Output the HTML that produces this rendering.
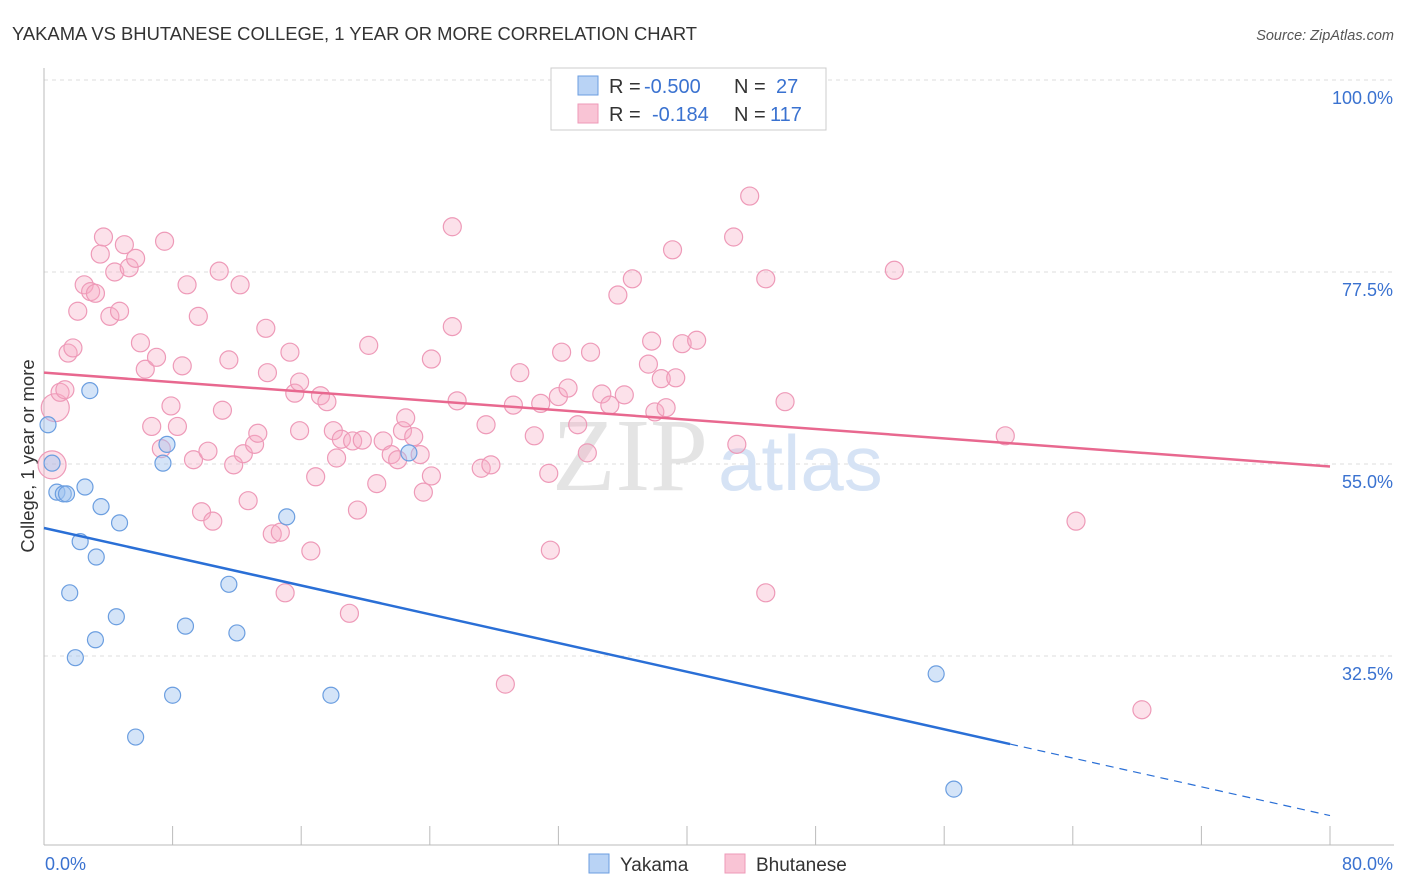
<!DOCTYPE html>
<html><head><meta charset="utf-8"><style>
body{margin:0;background:#fff;font-family:"Liberation Sans",sans-serif}
svg{display:block}
</style></head><body>
<svg id="c" width="1406" height="892"></svg>
<script>
const yakamaX=[0.25,0.5,0.8,1.2,1.4,2.55,2.85,3.55,4.7,2.25,3.25,1.6,4.5,3.2,1.95,8.0,5.7,8.8,7.65,7.4,11.5,12.0,15.1,17.85,22.7,55.5,56.6];
const yakamaY=[59.6,55.1,51.7,51.5,51.5,52.3,63.6,50.0,48.1,45.9,44.1,39.9,37.1,34.4,32.3,27.9,23.0,36.0,57.3,55.1,40.9,35.2,48.8,27.9,56.3,30.4,16.9];
const bhutX=[0.5,0.7,1.0,1.3,1.5,1.8,2.1,2.5,2.9,3.2,3.5,3.7,4.1,4.4,4.7,5.0,5.3,5.7,6.0,6.3,6.7,7.0,7.3,7.5,7.9,8.3,8.6,8.9,9.3,9.6,9.8,10.2,10.5,10.9,11.1,11.5,11.8,12.2,12.4,12.7,13.1,13.3,13.8,13.9,14.2,14.7,15.0,15.3,15.6,15.9,15.9,16.6,16.9,17.2,17.6,18.0,18.2,18.5,19.0,19.2,19.5,19.8,20.2,20.7,21.1,21.6,22.0,22.3,22.5,23.0,23.4,23.6,24.1,24.1,25.4,25.4,25.7,27.2,27.5,27.8,28.7,29.2,29.6,30.5,30.9,31.4,31.5,32.0,32.2,32.6,33.2,33.8,34.0,34.7,35.2,35.7,36.1,36.6,37.6,37.8,38.0,38.4,38.7,39.1,39.3,39.7,40.6,42.9,43.1,43.9,44.9,44.9,46.1,52.9,59.8,64.2,68.3];
const bhutY=[54.9,61.6,63.4,63.7,68.0,68.6,72.9,76.0,75.2,75.0,79.6,81.6,72.3,77.5,72.9,80.7,78.0,79.1,69.2,66.1,59.4,67.5,56.8,81.1,61.8,59.4,66.5,76.0,55.5,72.3,49.4,56.5,48.3,77.6,61.3,67.2,54.9,76.0,56.2,50.7,57.3,58.6,70.9,65.7,46.8,47.0,39.9,68.1,63.3,64.6,58.9,44.8,53.5,63.0,62.3,58.9,55.7,57.9,37.5,57.7,49.6,57.8,68.9,52.7,57.7,56.1,55.5,58.9,60.4,58.2,56.1,51.7,53.6,67.3,82.8,71.1,62.4,54.5,59.6,54.9,29.2,61.9,65.7,58.3,62.1,53.9,44.9,62.9,68.1,63.9,59.6,56.3,68.1,63.2,61.9,74.8,63.1,76.7,66.7,69.4,61.1,65.0,61.6,80.1,65.1,69.1,69.5,81.6,57.3,86.4,76.7,39.9,62.3,77.7,58.3,48.3,26.2];
const yTicks=[100,77.5,55,32.5];
const yTickLabels=["100.0%","77.5%","55.0%","32.5%"];
const yakTrend=[47.5,-0.4213]; // intercept, slope
const bhuTrend=[65.7,-0.1375];

const NS="http://www.w3.org/2000/svg";
const svg=document.getElementById('c');
function X(v){return 44+v*16.075;}
function Y(v){return 80+(100-v)*8.533;}
function el(t,a,p){const e=document.createElementNS(NS,t);for(const k in a)e.setAttribute(k,a[k]);(p||svg).appendChild(e);return e;}

let t=el('text',{x:12,y:40,'font-size':18.4,fill:'#333'});t.textContent="YAKAMA VS BHUTANESE COLLEGE, 1 YEAR OR MORE CORRELATION CHART";

t=el('text',{x:1394,y:40,'font-size':14.5,fill:'#555','text-anchor':'end','font-style':'italic'});t.textContent="Source: ZipAtlas.com";


yTicks.forEach((v,i)=>{
  const g=el('line',{x1:44,x2:1394,y1:Y(v),y2:Y(v),stroke:'#ddd','stroke-dasharray':'4,4'});
  
  const l=el('text',{x:1393,y:Y(v)+24,'font-size':18,fill:'#3a72d0','text-anchor':'end'});l.textContent=yTickLabels[i];
  
});
let a=el('line',{x1:44,x2:44,y1:68,y2:845,stroke:'#bbb'});
a=el('line',{x1:44,x2:1394,y1:845,y2:845,stroke:'#bbb'});
for(let i=0;i<=10;i++){const k=el('line',{x1:X(i*8),x2:X(i*8),y1:826,y2:845,stroke:'#bbb'});}
t=el('text',{x:45,y:870,'font-size':18,fill:'#3a72d0'});t.textContent="0.0%";
t=el('text',{x:1393,y:870,'font-size':18,fill:'#3a72d0','text-anchor':'end'});t.textContent="80.0%";
t=el('text',{x:34,y:456,'font-size':18.5,fill:'#333','text-anchor':'middle',transform:'rotate(-90 34 456)'});t.textContent="College, 1 year or more";


t=el('text',{x:552,y:490,'font-size':104,fill:'#e4e4e4','font-family':'Liberation Serif,serif'});t.textContent="ZIP";

t=el('text',{x:718,y:490,'font-size':78,fill:'#d6e3f5'});t.textContent="atlas";


bhutX.forEach((x,i)=>{
  const r=i<2?14:9;
  const c=el('circle',{cx:X(x),cy:Y(bhutY[i]),r:r,fill:'rgba(246,170,195,0.35)',stroke:'#ee9ab8','stroke-width':1.2});
  
});
yakamaX.forEach((x,i)=>{
  const c=el('circle',{cx:X(x),cy:Y(yakamaY[i]),r:8,fill:'rgba(160,195,240,0.45)',stroke:'#6b9ee0','stroke-width':1.2});
  
});
let l=el('line',{x1:X(0),y1:Y(bhuTrend[0]),x2:X(80),y2:Y(bhuTrend[0]+bhuTrend[1]*80),stroke:'#e8688f','stroke-width':2.5});

l=el('line',{x1:X(0),y1:Y(yakTrend[0]),x2:X(60.1),y2:Y(yakTrend[0]+yakTrend[1]*60.1),stroke:'#2a6fd6','stroke-width':2.5});

l=el('line',{x1:X(60.1),y1:Y(yakTrend[0]+yakTrend[1]*60.1),x2:X(80),y2:Y(yakTrend[0]+yakTrend[1]*80),stroke:'#2a6fd6','stroke-width':1.2,'stroke-dasharray':'8,6'});


const lg=el('g',{});
el('rect',{x:551,y:68,width:275,height:62,fill:'#fff',stroke:'#ccc'},lg);
el('rect',{x:578,y:76,width:20,height:19,fill:'#b9d3f5',stroke:'#6b9ee0'},lg);
el('rect',{x:578,y:104,width:20,height:19,fill:'#f9c4d5',stroke:'#ee9ab8'},lg);
function tx(x,y,s,c){const e=el('text',{x:x,y:y,'font-size':20,fill:c},lg);e.textContent=s;return e;}
tx(609,93,"R =","#333");tx(644,93,"-0.500","#3a72d0");tx(734,93,"N =","#333");tx(776,93,"27","#3a72d0");
tx(609,121,"R =","#333");tx(652,121,"-0.184","#3a72d0");tx(734,121,"N =","#333");tx(770,121,"117","#3a72d0");

const bl=el('g',{});
el('rect',{x:589,y:854,width:20,height:19,fill:'#b9d3f5',stroke:'#6b9ee0'},bl);
let e=el('text',{x:620,y:871,'font-size':19,fill:'#333'},bl);e.textContent="Yakama";
el('rect',{x:725,y:854,width:20,height:19,fill:'#f9c4d5',stroke:'#ee9ab8'},bl);
e=el('text',{x:756,y:871,'font-size':19,fill:'#333'},bl);e.textContent="Bhutanese";
</script>
</body></html>
